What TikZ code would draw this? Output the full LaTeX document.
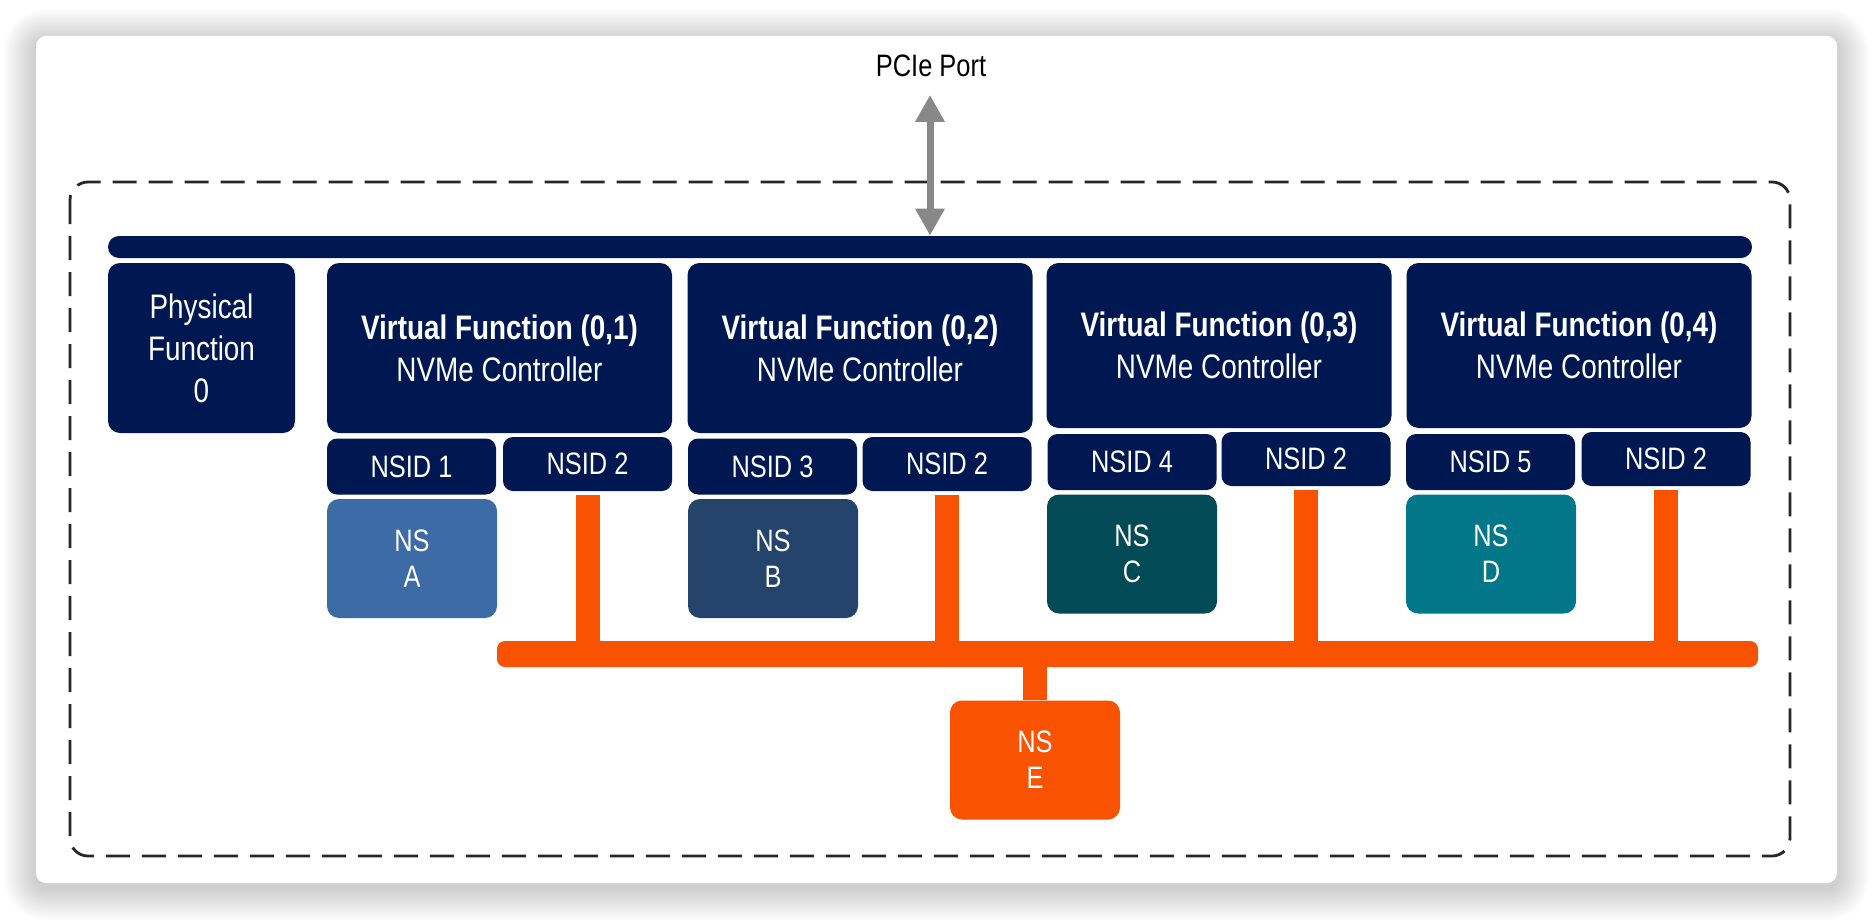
\documentclass[tikz,border=0pt]{standalone}
\usepackage{fontspec}
\newfontfamily\nf[FakeStretch=0.82]{Liberation Sans}
\usetikzlibrary{arrows.meta}
\definecolor{navy}{HTML}{001852}
\definecolor{nsa}{HTML}{3D6BA5}
\definecolor{nsb}{HTML}{25446B}
\definecolor{nsc}{HTML}{024A55}
\definecolor{nsd}{HTML}{02778A}
\definecolor{orng}{HTML}{F95200}
\definecolor{arrgray}{HTML}{888888}
\begin{document}
\begin{tikzpicture}[x=0.5pt,y=-0.5pt,
  base/.style={rounded corners=6pt, inner sep=0pt, align=center, text=white},
  bigfont/.style={font=\nf\fontsize{17}{21}\selectfont},
  smallfont/.style={font=\nf\fontsize{15.5}{19}\selectfont},
  nsfont/.style={font=\nf\fontsize{15.5}{18}\selectfont},
  pfbox/.style={base, bigfont, fill=navy, minimum width=93.5pt, minimum height=85pt},
  vfbox/.style={base, bigfont, fill=navy, minimum width=172.5pt, minimum height=85pt},
  vfboxs/.style={vfbox, minimum height=82.5pt},
  nsidl/.style={base, smallfont, rounded corners=5pt, fill=navy, minimum width=84.5pt, minimum height=28pt},
  nsidr/.style={nsidl, minimum height=27pt},
  nsbox/.style={base, nsfont, minimum width=85pt, minimum height=59.5pt},
  obar/.style={draw=orng, line width=12pt, line cap=butt},
  parrow/.style={draw=arrgray, line width=3.5pt, {Triangle[width=14pt,length=13.5pt]}-{Triangle[width=14pt,length=13.5pt]}},
  dashbox/.style={draw=black!85, line width=1.4pt, dash pattern=on 12pt off 6pt, rounded corners=9pt}
]
\useasboundingbox (0,0) rectangle (1874,920);
% card shadow
\foreach \i in {1,...,16}{
  \fill[black, opacity=0.011, rounded corners={5pt+\i pt}] ({36-2*\i},{36-2*\i+5}) rectangle ({1837+2*\i},{883+2*\i+5});
}
\fill[white, rounded corners=5pt] (36,36) rectangle (1837,883);
% dashed enclosure
\draw[dashbox] (70,182) rectangle (1790,856);
% PCIe port
\node[font=\nf\fontsize{15.5}{19}\selectfont, text=black] (pcie) at (931,66) {PCIe Port};
\coordinate (ptop) at (930,95);
% navy bus
\node[fill=navy, rounded corners=5.5pt, minimum width=822pt, minimum height=11pt, inner sep=0pt] (bus) at (930,247) {};
\draw[parrow] (ptop) -- (ptop |- bus.north);
% functions
\node[pfbox] (pf) at (201.5,348) {Physical\\Function\\0};
\node[vfbox] (vf1) at (499.5,348) {\textbf{Virtual Function (0,1)}\\NVMe Controller};
\node[vfbox] (vf2) at (860,348) {\textbf{Virtual Function (0,2)}\\NVMe Controller};
\node[vfboxs] (vf3) at (1219,345.5) {\textbf{Virtual Function (0,3)}\\NVMe Controller};
\node[vfboxs] (vf4) at (1579,345.5) {\textbf{Virtual Function (0,4)}\\NVMe Controller};
% NSIDs
\node[nsidl] (n11) at (411.5,466.5) {NSID 1};
\node[nsidr] (n12) at (587.5,464) {NSID 2};
\node[nsidl] (n21) at (772.5,466.5) {NSID 3};
\node[nsidr] (n22) at (947,464) {NSID 2};
\node[nsidl] (n31) at (1132,462) {NSID 4};
\node[nsidr] (n32) at (1306,459) {NSID 2};
\node[nsidl] (n41) at (1490.5,462) {NSID 5};
\node[nsidr] (n42) at (1666,459) {NSID 2};
% private namespaces
\node[nsbox, fill=nsa] (nsA) at (412,558.5) {NS\\A};
\node[nsbox, fill=nsb] (nsB) at (773,558.5) {NS\\B};
\node[nsbox, fill=nsc] (nsC) at (1132,554) {NS\\C};
\node[nsbox, fill=nsd] (nsD) at (1491,554) {NS\\D};
% shared namespace
\node[fill=orng, rounded corners=4pt, minimum width=630.5pt, minimum height=13pt, inner sep=0pt] (obus) at (1127.5,654) {};
\node[nsbox, fill=orng] (nsE) at (1035,760) {NS\\E};
\foreach \n in {n12,n22,n32,n42}{
  \draw[obar] ([yshift=-2pt]\n.south) -- (\n.south |- obus.center);
}
\draw[obar] (obus.center -| nsE.north) -- (nsE.north);
\end{tikzpicture}
\end{document}
